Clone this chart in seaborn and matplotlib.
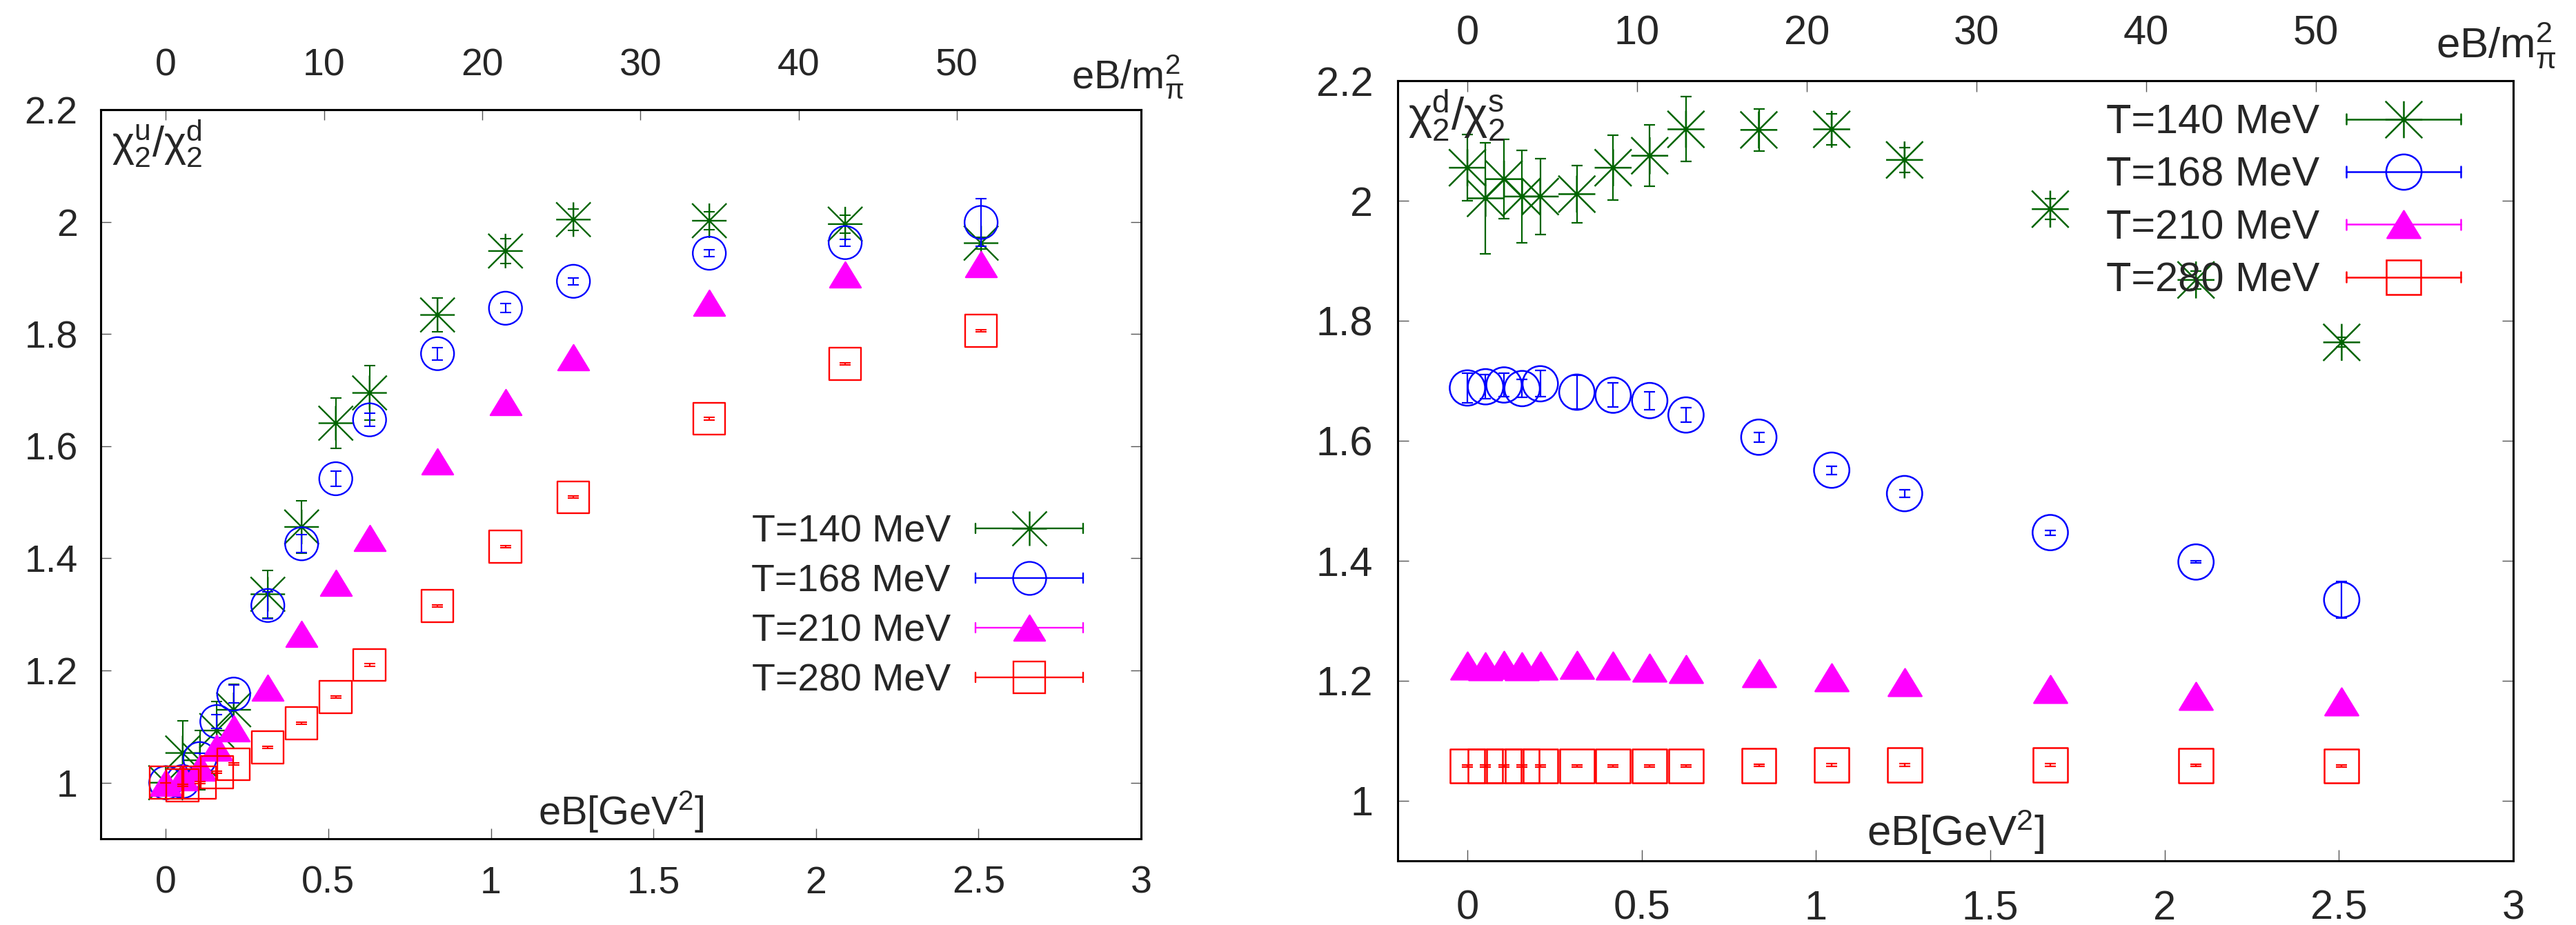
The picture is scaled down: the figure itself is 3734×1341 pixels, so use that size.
import numpy as np
import pandas as pd
import matplotlib
matplotlib.use("Agg")
import matplotlib.pyplot as plt
from matplotlib.path import Path
from matplotlib.lines import Line2D
from matplotlib.legend_handler import HandlerBase
from matplotlib.ticker import FixedLocator, FuncFormatter
import seaborn as sns

# ---------------- data ----------------
eB = [0.0, 0.052, 0.105, 0.157, 0.209, 0.314, 0.418, 0.523, 0.627,
      0.836, 1.045, 1.254, 1.672, 2.090, 2.508]
labels = ["T=140 MeV", "T=168 MeV", "T=210 MeV", "T=280 MeV"]

# chi2^u / chi2^d
ud_140 = [1.000, 1.053, 1.040, 1.093, 1.130, 1.336, 1.456, 1.641, 1.695,
          1.834, 1.948, 2.004, 2.002, 1.996, 1.962]
ud_140_err = [0.0, 0.057, 0.053, 0.052, 0.045, 0.042, 0.047, 0.045, 0.049,
              0.030, 0.022, 0.019, 0.016, 0.016, 0.010]
ud_168 = [1.000, 1.002, 1.043, 1.109, 1.158, 1.316, 1.426, 1.542, 1.647,
          1.765, 1.846, 1.894, 1.944, 1.963, 1.999]
ud_168_err = [0.0, 0.005, 0.010, 0.012, 0.016, 0.024, 0.016, 0.014, 0.012,
              0.011, 0.008, 0.006, 0.006, 0.006, 0.042]
ud_210 = [1.000, 1.009, 1.027, 1.062, 1.097, 1.169, 1.265, 1.356, 1.436,
          1.573, 1.678, 1.759, 1.856, 1.906, 1.924]
ud_210_err = [0.0, 0.002, 0.002, 0.002, 0.002, 0.002, 0.002, 0.002, 0.002,
              0.002, 0.002, 0.002, 0.002, 0.002, 0.002]
ud_280 = [1.000, 0.995, 1.000, 1.019, 1.033, 1.063, 1.106, 1.153, 1.210,
          1.315, 1.421, 1.509, 1.649, 1.747, 1.806]
ud_280_err = [0.0, 0.002, 0.002, 0.002, 0.002, 0.002, 0.002, 0.002, 0.002,
              0.002, 0.002, 0.002, 0.002, 0.002, 0.002]

# chi2^d / chi2^s
ds_140 = [2.055, 2.004, 2.036, 2.007, 2.007, 2.011, 2.055, 2.075, 2.119,
          2.118, 2.119, 2.068, 1.986, 1.868, 1.764]
ds_140_err = [0.055, 0.092, 0.066, 0.077, 0.063, 0.048, 0.054, 0.051, 0.054,
              0.035, 0.026, 0.021, 0.017, 0.015, 0.008]
ds_168 = [1.688, 1.690, 1.693, 1.687, 1.695, 1.681, 1.676, 1.667, 1.643,
          1.606, 1.551, 1.512, 1.447, 1.398, 1.335]
ds_168_err = [0.025, 0.020, 0.020, 0.015, 0.022, 0.028, 0.020, 0.015, 0.012,
              0.008, 0.007, 0.006, 0.004, 0.002, 0.030]
ds_210 = [1.225, 1.224, 1.226, 1.224, 1.225, 1.226, 1.225, 1.222, 1.220,
          1.213, 1.206, 1.198, 1.186, 1.175, 1.166]
ds_210_err = [0.002] * 15
ds_280 = [1.058, 1.058, 1.058, 1.058, 1.058, 1.058, 1.058, 1.058, 1.058,
          1.059, 1.060, 1.060, 1.060, 1.059, 1.058]
ds_280_err = [0.002] * 15

MPI2_PER_GEV2 = 20.55  # eB/m_pi^2 per GeV^2 (top axis)
xticks_bottom = [0, 0.5, 1, 1.5, 2, 2.5, 3]
xticks_top = [0, 10, 20, 30, 40, 50]
yticks = [1.0, 1.2, 1.4, 1.6, 1.8, 2.0, 2.2]

# ---------------- style ----------------
sns.set_style("white")
plt.rcParams['font.family'] = ['Liberation Sans', 'DejaVu Sans']
plt.rcParams['mathtext.fontset'] = 'custom'
plt.rcParams['mathtext.rm'] = 'Liberation Sans'
plt.rcParams['mathtext.it'] = 'Liberation Sans'
plt.rcParams['mathtext.sf'] = 'Liberation Sans'
plt.rcParams['mathtext.bf'] = 'Liberation Sans:bold'

STAR = Path([(-1, 0), (1, 0), (0, -1), (0, 1), (-1, -1), (1, 1), (-1, 1), (1, -1)],
            [Path.MOVETO, Path.LINETO] * 4)
TRI = Path([(0, 0.82), (-1, -0.82), (1, -0.82), (0, 0.82)],
           [Path.MOVETO, Path.LINETO, Path.LINETO, Path.CLOSEPOLY])

styles = [
    dict(color="#006400", marker=STAR, size=36, fill=False),
    dict(color="#0000ff", marker="o", size=34.5, fill=False),
    dict(color="#ff00ff", marker=TRI, size=32.5, fill=True),
    dict(color="#ff0000", marker="s", size=33.5, fill=False),
]


class CapLineHandler(HandlerBase):
    def create_artists(self, legend, orig, xdescent, ydescent, width, height,
                       fontsize, trans):
        yc = height / 2.0 - ydescent
        x0, x1 = -xdescent, -xdescent + width
        c = orig.get_color()
        lw = orig.get_linewidth()
        cap = fontsize * 0.13
        arts = [Line2D([x0, x1], [yc, yc], color=c, lw=lw),
                Line2D([x0, x0], [yc - cap, yc + cap], color=c, lw=lw),
                Line2D([x1, x1], [yc - cap, yc + cap], color=c, lw=lw),
                Line2D([(x0 + x1) / 2], [yc], linestyle='none',
                       marker=orig.get_marker(), markersize=orig.get_markersize(),
                       markerfacecolor=orig.get_markerfacecolor(),
                       markeredgecolor=orig.get_markeredgecolor(),
                       markeredgewidth=orig.get_markeredgewidth())]
        for a in arts:
            a.set_transform(trans)
        return arts


fig = plt.figure(figsize=(37.34, 13.41), dpi=100)
ax1 = fig.add_axes([146 / 3734, 1 - 1216 / 1341, 1508 / 3734, 1057 / 1341])
ax2 = fig.add_axes([2026 / 3734, 1 - 1248 / 1341, 1617 / 3734, 1131 / 1341])

fmt = FuncFormatter(lambda v, p: f"{v:g}")


def draw_panel(ax, series, errs, sc, ylab, ylab_pos, leg_anchor, mpi_pos):
    fs = 40 * sc
    handles = []
    for i, (vals, err, st) in enumerate(zip(series, errs, styles)):
        df = pd.DataFrame({"eB": eB, "val": vals, "err": err})
        ax.errorbar(df["eB"], df["val"], yerr=df["err"], fmt="none",
                    ecolor=st["color"], elinewidth=1.5 * sc, capsize=5.5 * sc,
                    capthick=1.5 * sc, zorder=3 + 2 * i)
        fc = st["color"] if st["fill"] else "none"
        sns.scatterplot(data=df, x="eB", y="val", ax=ax, marker=st["marker"],
                        s=(st["size"] * sc) ** 2, facecolor=fc,
                        edgecolor=st["color"], linewidth=1.7 * sc,
                        zorder=4 + 2 * i, legend=False)
        handles.append(Line2D([], [], color=st["color"], lw=1.7 * sc,
                              marker=st["marker"], markersize=st["size"] * sc,
                              markerfacecolor=fc, markeredgecolor=st["color"],
                              markeredgewidth=1.7 * sc))

    ax.set_xlim(-0.2, 3.0)
    ax.set_ylim(0.9, 2.2)
    ax.xaxis.set_major_locator(FixedLocator(xticks_bottom))
    ax.yaxis.set_major_locator(FixedLocator(yticks))
    ax.xaxis.set_major_formatter(fmt)
    ax.yaxis.set_major_formatter(fmt)
    ax.tick_params(axis="both", which="major", direction="in", length=11 * sc,
                   width=1.0, color="#555555", labelsize=fs,
                   left=True, right=True, bottom=True, top=False,
                   labelleft=True, labelright=False)
    ax.tick_params(axis="x", pad=28 * sc)
    ax.tick_params(axis="y", pad=24 * sc)
    for s in ax.spines.values():
        s.set_visible(True)
        s.set_linewidth(2.2)
        s.set_color("black")

    ax.set_ylabel("")
    ax.set_xlabel(r"$\mathregular{eB[GeV^2]}$", fontsize=fs * 1.04)
    ax.xaxis.set_label_coords(0.5, 0.006)
    ax.xaxis.label.set_va("bottom")

    ax.text(ylab_pos[0], ylab_pos[1], ylab, transform=ax.transAxes,
            ha="left", va="top", fontsize=fs * 1.1, zorder=20)

    sec = ax.secondary_xaxis("top", functions=(lambda x: x * MPI2_PER_GEV2,
                                               lambda x: x / MPI2_PER_GEV2))
    sec.xaxis.set_major_locator(FixedLocator(xticks_top))
    sec.xaxis.set_major_formatter(fmt)
    sec.tick_params(direction="in", length=11 * sc, width=1.0, color="#555555",
                    labelsize=fs, pad=27 * sc)
    sec.spines["top"].set_linewidth(2.2)
    ax.text(mpi_pos[0], mpi_pos[1], r"$\mathregular{eB/m_{\pi}^{2}}$",
            transform=ax.transAxes, ha="left", va="baseline", fontsize=fs * 1.04)

    ax.legend(handles, labels, loc="upper right", bbox_to_anchor=leg_anchor,
              markerfirst=False, frameon=False, fontsize=fs,
              handlelength=2.8, handletextpad=0.65, labelspacing=0.36,
              borderpad=0, borderaxespad=0,
              handler_map={Line2D: CapLineHandler()})


draw_panel(ax1, [ud_140, ud_168, ud_210, ud_280],
           [ud_140_err, ud_168_err, ud_210_err, ud_280_err], 1.0,
           r"$\mathregular{\chi_2^u/\chi_2^d}$", (0.0106, 0.988),
           (0.944, 0.445), (0.933, 1.029))
draw_panel(ax2, [ds_140, ds_168, ds_210, ds_280],
           [ds_140_err, ds_168_err, ds_210_err, ds_280_err], 1.07,
           r"$\mathregular{\chi_2^d/\chi_2^s}$", (0.0093, 0.990),
           (0.953, 0.9705), (0.931, 1.030))

fig.savefig("out.png", dpi=100, facecolor="white")
